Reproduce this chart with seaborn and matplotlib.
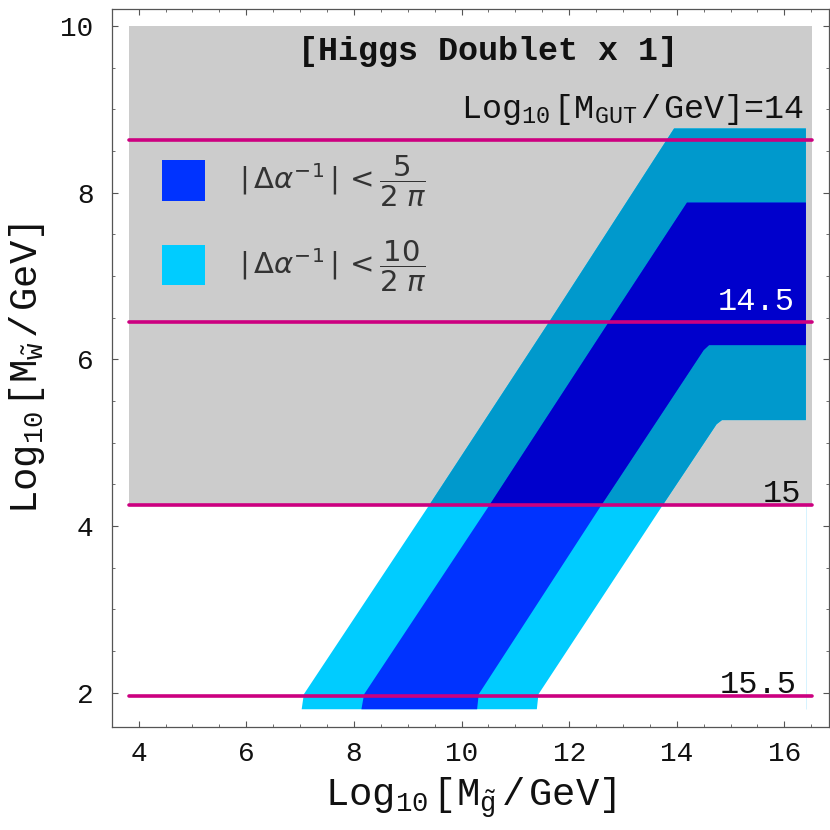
import numpy as np
import pandas as pd
import matplotlib
matplotlib.use("Agg")
import matplotlib.pyplot as plt
from matplotlib.patches import Patch
from matplotlib.ticker import MultipleLocator
import seaborn as sns

# horizontal lines: Log10[M_GUT/GeV] contours
gut_labels = ["14", "14.5", "15", "15.5"]
gut_y = [8.63, 6.45, 4.25, 1.96]

# gray (excluded) region
gray_x = [3.82, 16.52]
gray_ylow = 4.25
gray_yhigh = 10.0

# |d alpha^-1| < 10/2pi band outline (x, y)
outer_x = [7.03, 11.40, 11.43, 13.74, 14.74, 14.84, 16.40, 16.40, 13.95, 11.63, 9.40, 7.07]
outer_y = [1.80, 1.80, 1.98, 4.25, 5.22, 5.27, 5.27, 8.77, 8.77, 6.45, 4.25, 1.98]

# |d alpha^-1| < 5/2pi band outline (x, y)
inner_x = [8.14, 10.29, 10.32, 12.60, 14.50, 14.60, 16.40, 16.40, 14.19, 12.74, 10.52, 8.19]
inner_y = [1.80, 1.80, 1.98, 4.25, 6.11, 6.17, 6.17, 7.88, 7.88, 6.45, 4.25, 1.98]

legend_labels = [r"$|\,\Delta\alpha^{-1}\,|\, < \dfrac{5}{2\;\pi}$",
                 r"$|\,\Delta\alpha^{-1}\,|\, < \dfrac{10}{2\;\pi}$"]

col_gray = "#cccccc"
col_outer, col_outer_in = "#00ccff", "#0099cc"
col_inner, col_inner_in = "#0033ff", "#0000cc"
col_line = "#cc0080"

sns.set_theme(style="ticks")
plt.rcParams["font.family"] = ["Liberation Mono", "DejaVu Sans"]
plt.rcParams["mathtext.fontset"] = "custom"
plt.rcParams["mathtext.rm"] = "Liberation Mono"
plt.rcParams["mathtext.it"] = "Liberation Mono:italic"
plt.rcParams["mathtext.bf"] = "Liberation Mono:bold"

fig = plt.figure(figsize=(8.3, 8.3), dpi=100)
ax = fig.add_axes([0.1346, 0.1237, 0.8636, 0.8651])

# gray region
gray = ax.fill_between(gray_x, gray_ylow, gray_yhigh, color=col_gray, lw=0, zorder=1)
clip = gray.get_paths()[0]

# bands, outside and inside the gray region
p = ax.fill(outer_x, outer_y, color=col_outer, lw=0, zorder=2)[0]
p = ax.fill(outer_x, outer_y, color=col_outer_in, lw=0, zorder=2.1)[0]
p.set_clip_path(clip, ax.transData)
p = ax.fill(inner_x, inner_y, color=col_inner, lw=0, zorder=3)[0]
p = ax.fill(inner_x, inner_y, color=col_inner_in, lw=0, zorder=3.1)[0]
p.set_clip_path(clip, ax.transData)
ax.vlines(outer_x[6], outer_y[0], gray_ylow, color="#d6f3ff", lw=0.7, zorder=2)

# M_GUT lines
lines = pd.DataFrame({
    "x": np.repeat([gray_x], len(gut_y), axis=0).ravel(),
    "y": np.repeat(gut_y, 2),
    "gut": np.repeat(gut_labels, 2),
})
sns.lineplot(data=lines, x="x", y="y", units="gut", estimator=None,
             color=col_line, lw=2.6, ax=ax, zorder=4)

ax.text(16.37, 8.89, r"Log$_{10}\,$[M$_{\mathrm{GUT}}\,$/$\,$GeV]=" + gut_labels[0],
        ha="right", va="baseline", fontsize=24, color="#111111", zorder=6)
ax.text(16.19, 6.59, gut_labels[1], ha="right", va="baseline", fontsize=23, color="white", zorder=6)
ax.text(16.31, 4.29, gut_labels[2], ha="right", va="baseline", fontsize=23, color="#111111", zorder=6)
ax.text(16.23, 2.00, gut_labels[3], ha="right", va="baseline", fontsize=23, color="#111111", zorder=6)

ax.text(10.49, 9.69, "[Higgs Doublet x 1]", ha="center", va="center",
        fontsize=24, fontweight="bold", color="#111111", zorder=6)

handles = [Patch(facecolor=col_inner, edgecolor="none"),
           Patch(facecolor=col_outer, edgecolor="none")]
leg = ax.legend(handles, legend_labels, loc="center left", bbox_to_anchor=(0.0697, 0.7010),
                frameon=False, fontsize=21, handlelength=1.47, handleheight=1.75,
                handletextpad=1.18, labelspacing=1.0, borderpad=0, borderaxespad=0)
for t in leg.get_texts():
    t.set_math_fontfamily("dejavusans")
    t.set_color("#333333")

ax.set_xlim(3.50, 16.82)
ax.set_ylim(1.583, 10.20)
ax.xaxis.set_major_locator(MultipleLocator(2))
ax.xaxis.set_minor_locator(MultipleLocator(0.5))
ax.yaxis.set_major_locator(MultipleLocator(2))
ax.yaxis.set_minor_locator(MultipleLocator(0.5))
ax.tick_params(which="both", direction="in", top=True, right=True, color="#555555",
               labelsize=20, labelcolor="#111111")
ax.tick_params(which="major", length=4, width=0.8)
ax.tick_params(which="minor", length=2.2, width=0.6)
ax.tick_params(axis="x", pad=10)
ax.tick_params(axis="y", pad=13)
for s in ax.spines.values():
    s.set_color("#555555")
    s.set_linewidth(0.9)

ax.set_xlabel(r"Log$_{10}\,$[M$_{\tilde{\mathrm{g}}}\,$/$\,$GeV]", fontsize=28, labelpad=6, color="#111111")
ax.set_ylabel(r"Log$_{10}\,$[M$_{\tilde{\mathrm{w}}}\,$/$\,$GeV]", fontsize=28, labelpad=10, color="#111111")

fig.savefig("out.png", dpi=100)
